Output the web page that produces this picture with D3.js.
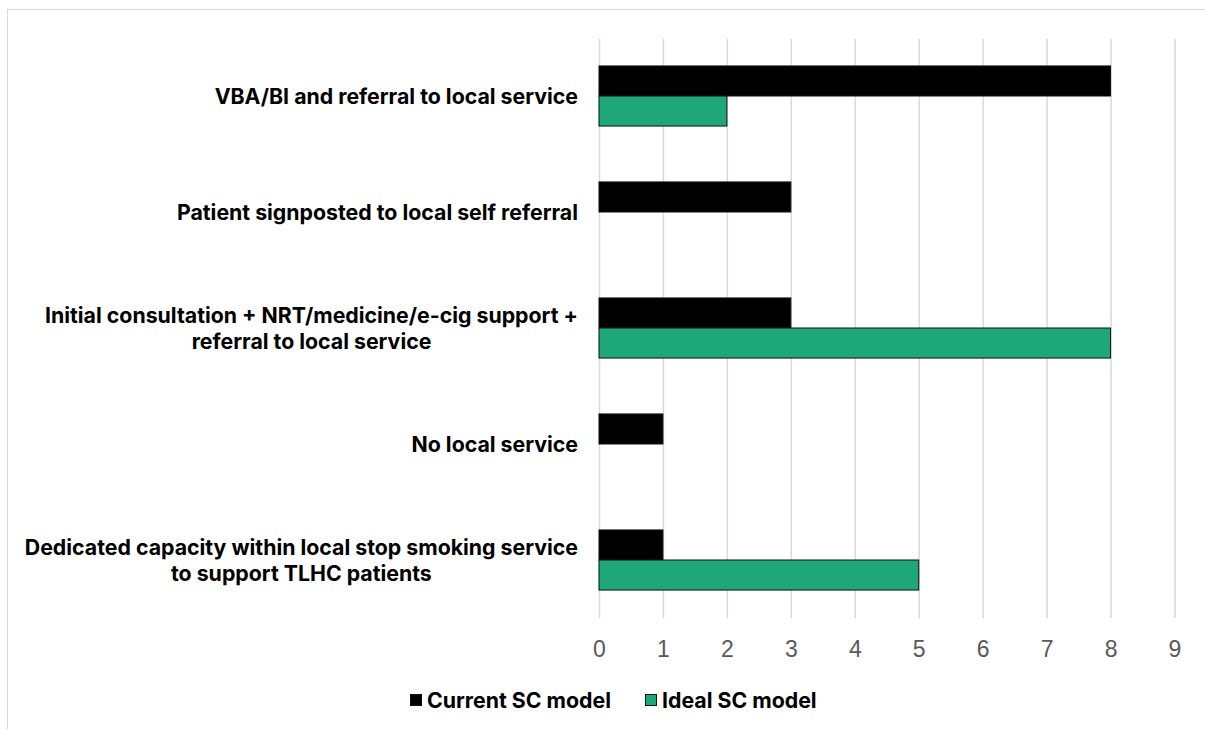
<!DOCTYPE html>
<html>
<head>
<meta charset="utf-8">
<script src="https://cdn.jsdelivr.net/npm/d3@7"></script>
<style>
  html, body { margin: 0; padding: 0; background: #fff; }
  svg { display: block; font-family: Inter, "Noto Sans", sans-serif; }
</style>
</head>
<body>
<svg id="chart" width="1205" height="729"></svg>
<script>
// Support models, listed top to bottom
const categories = [
  "VBA/BI and referral to local service",
  "Patient signposted to local self referral",
  "Initial consultation + NRT/medicine/e-cig support +\nreferral to local service",
  "No local service",
  "Dedicated capacity within local stop smoking service\nto support TLHC patients"
];
const seriesNames = ["Current SC model", "Ideal SC model"];
const currentValues = [8, 3, 3, 1, 1];
const idealValues = [2, 0, 8, 0, 5];
const xTicks = [0, 1, 2, 3, 4, 5, 6, 7, 8, 9];
const seriesColors = ["#000000", "#1ea87a"];

const svg = d3.select("#chart");

// outer frame (right and bottom edges run past the canvas)
svg.append("rect")
  .attr("x", 7.5).attr("y", 9.5)
  .attr("width", 1220).attr("height", 760)
  .attr("fill", "none").attr("stroke", "#d9d9d9").attr("stroke-width", 1);

const plot = { left: 599, right: 1174.5, top: 38, bottom: 618 };

const x = d3.scaleLinear().domain([0, 9]).range([plot.left, plot.right]);
const y = d3.scaleBand().domain(categories).range([plot.top, plot.bottom]).padding(0);
const inner = d3.scaleBand().domain(seriesNames)
  .range([0, y.bandwidth()]).paddingInner(0).paddingOuter(0.93);

// vertical gridlines
const grid = svg.append("g")
  .attr("transform", `translate(0,${plot.bottom})`)
  .call(d3.axisBottom(x).tickValues(xTicks).tickSize(-(plot.bottom - plot.top - 1)).tickFormat(""));
grid.select(".domain").remove();
grid.selectAll(".tick line").attr("stroke", "#d9d9d9").attr("stroke-width", 1.5);

// tick labels
const axis = svg.append("g")
  .attr("transform", `translate(0,${plot.bottom})`)
  .call(d3.axisBottom(x).tickValues(xTicks).tickSize(0).tickPadding(0).tickFormat(d3.format("d")));
axis.select(".domain").remove();
axis.selectAll(".tick text")
  .attr("y", 38.5).attr("dy", 0)
  .attr("fill", "#595959")
  .style("font-size", "23px")
  .style("font-weight", 300);

// bars
const rows = categories.map((c, i) => ({ cat: c, values: [currentValues[i], idealValues[i]] }));
const groups = svg.append("g").selectAll("g").data(rows).join("g")
  .attr("transform", d => `translate(0,${y(d.cat)})`);
groups.selectAll("rect")
  .data(d => d.values.map((v, k) => ({ v, k })).filter(e => e.v > 0))
  .join("rect")
  .attr("x", x(0))
  .attr("y", e => inner(seriesNames[e.k]))
  .attr("width", e => x(e.v) - x(0))
  .attr("height", inner.bandwidth())
  .attr("fill", e => seriesColors[e.k])
  .attr("stroke", "#111")
  .attr("stroke-width", 1);

// category labels: right-aligned block, lines centred within the block
const labelRight = 578;
const lineH = 26;
const labels = svg.append("g");
categories.forEach(c => {
  const lines = c.split("\n");
  const g = labels.append("g");
  const texts = lines.map(l => g.append("text")
    .text(l)
    .style("font-size", "21.3px").style("font-weight", 700).attr("fill", "#000"));
  const widths = texts.map(t => t.node().getComputedTextLength());
  const maxW = d3.max(widths);
  const cy = y(c) + y.bandwidth() / 2;
  texts.forEach((t, i) => {
    t.attr("text-anchor", "middle")
     .attr("x", labelRight - maxW / 2)
     .attr("y", cy + (i - (lines.length - 1) / 2) * lineH)
     .attr("dy", "0.36em");
  });
});

// legend
const legendItems = [
  { name: seriesNames[0], color: seriesColors[0], x: 410 },
  { name: seriesNames[1], color: seriesColors[1], x: 645 }
];
const legend = svg.append("g").attr("transform", "translate(0,700)");
const li = legend.selectAll("g").data(legendItems).join("g")
  .attr("transform", d => `translate(${d.x},0)`);
li.append("rect")
  .attr("x", 0.5).attr("y", -5.5).attr("width", 11).attr("height", 11)
  .attr("fill", d => d.color).attr("stroke", "#111").attr("stroke-width", 1);
li.append("text")
  .attr("x", 17).attr("dy", "0.36em")
  .style("font-size", "21.3px").style("font-weight", 700)
  .text(d => d.name);
</script>
</body>
</html>
